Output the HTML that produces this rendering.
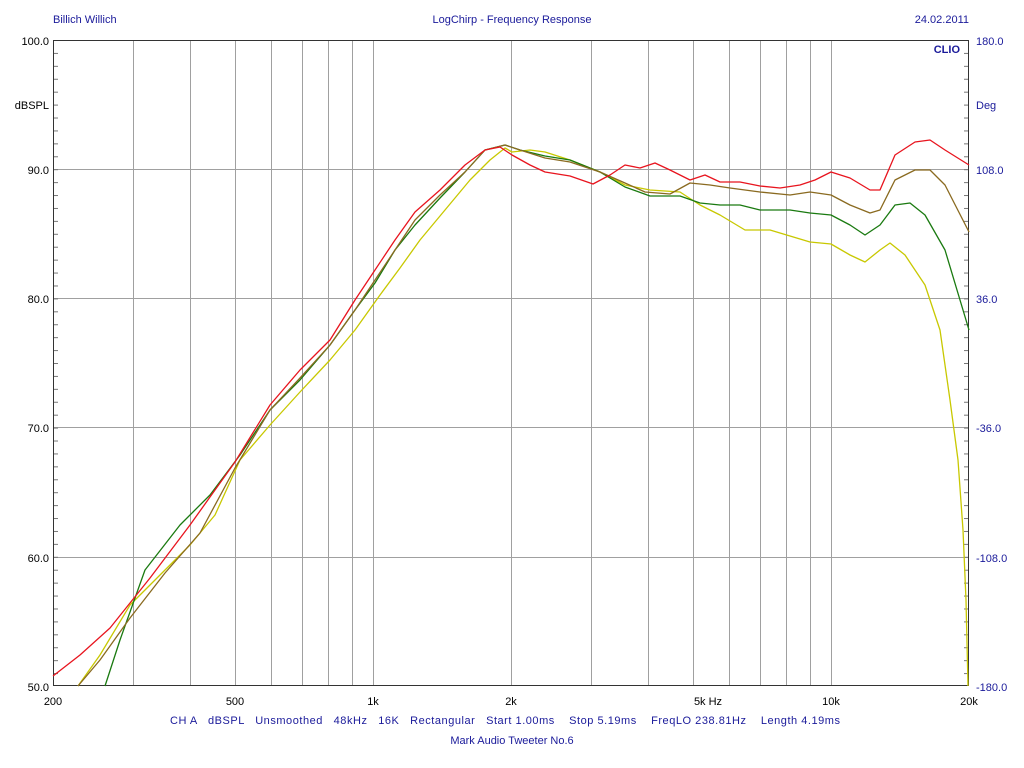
<!DOCTYPE html>
<html><head><meta charset="utf-8"><style>
html,body{margin:0;padding:0;background:#fff;}
svg{display:block;font-family:"Liberation Sans",sans-serif;}
</style></head><body>
<svg width="1024" height="768" viewBox="0 0 1024 768">
<defs>
<pattern id="tk" patternUnits="userSpaceOnUse" x="0" y="40" width="1024" height="12.92">
<rect x="54" y="0" width="4" height="1" fill="#777"/>
<rect x="964" y="0" width="4" height="1" fill="#777"/>
</pattern>
</defs>
<rect width="1024" height="768" fill="#fff"/>
<g font-size="11" fill="#1a1a9a">
<text x="53" y="23">Billich Willich</text>
<text x="512" y="23" text-anchor="middle">LogChirp - Frequency Response</text>
<text x="969" y="23" text-anchor="end">24.02.2011</text>
<text x="960" y="53" text-anchor="end" font-weight="bold">CLIO</text>
<text x="976" y="109">Deg</text>
<text x="976" y="45">180.0</text>
<text x="976" y="174">108.0</text>
<text x="976" y="303">36.0</text>
<text x="976" y="432">-36.0</text>
<text x="976" y="562">-108.0</text>
<text x="976" y="691">-180.0</text>
<text x="170" y="724" textLength="670" xml:space="preserve">CH A   dBSPL   Unsmoothed   48kHz   16K   Rectangular   Start 1.00ms    Stop 5.19ms    FreqLO 238.81Hz    Length 4.19ms</text>
<text x="512" y="744" text-anchor="middle">Mark Audio Tweeter No.6</text>
</g>
<g font-size="11" fill="#000">
<text x="49" y="45" text-anchor="end">100.0</text>
<text x="49" y="109" text-anchor="end">dBSPL</text>
<text x="49" y="174" text-anchor="end">90.0</text>
<text x="49" y="303" text-anchor="end">80.0</text>
<text x="49" y="432" text-anchor="end">70.0</text>
<text x="49" y="562" text-anchor="end">60.0</text>
<text x="49" y="691" text-anchor="end">50.0</text>
<text x="53" y="705" text-anchor="middle">200</text>
<text x="235" y="705" text-anchor="middle">500</text>
<text x="373" y="705" text-anchor="middle">1k</text>
<text x="511" y="705" text-anchor="middle">2k</text>
<text x="708" y="705" text-anchor="middle">5k  Hz</text>
<text x="831" y="705" text-anchor="middle">10k</text>
<text x="969" y="705" text-anchor="middle">20k</text>
</g>
<g stroke="#a0a0a0" stroke-width="1">
<line x1="133.5" y1="40" x2="133.5" y2="686"/><line x1="190.5" y1="40" x2="190.5" y2="686"/>
<line x1="235.5" y1="40" x2="235.5" y2="686"/><line x1="271.5" y1="40" x2="271.5" y2="686"/>
<line x1="302.5" y1="40" x2="302.5" y2="686"/><line x1="328.5" y1="40" x2="328.5" y2="686"/>
<line x1="352.5" y1="40" x2="352.5" y2="686"/><line x1="373.5" y1="40" x2="373.5" y2="686"/>
<line x1="511.5" y1="40" x2="511.5" y2="686"/><line x1="591.5" y1="40" x2="591.5" y2="686"/>
<line x1="648.5" y1="40" x2="648.5" y2="686"/><line x1="693.5" y1="40" x2="693.5" y2="686"/>
<line x1="729.5" y1="40" x2="729.5" y2="686"/><line x1="760.5" y1="40" x2="760.5" y2="686"/>
<line x1="786.5" y1="40" x2="786.5" y2="686"/><line x1="810.5" y1="40" x2="810.5" y2="686"/>
<line x1="831.5" y1="40" x2="831.5" y2="686"/>
<line x1="53" y1="169.5" x2="969" y2="169.5"/><line x1="53" y1="298.5" x2="969" y2="298.5"/>
<line x1="53" y1="427.5" x2="969" y2="427.5"/><line x1="53" y1="557.5" x2="969" y2="557.5"/>
</g>
<rect x="0" y="40" width="1024" height="646" fill="url(#tk)"/>
<rect x="53.5" y="40.5" width="915" height="645" fill="none" stroke="#333" stroke-width="1"/>
<g fill="none" stroke-width="1.3" stroke-linejoin="round">
<polyline stroke="#c8c800" points="78,686 100,655 130,605 160,575 190,545 215,515 240,460 270,425 300,392 330,360 355,330 380,295 400,268 420,240 445,210 470,180 490,160 505,148 512,152 530,150 545,152 570,160 600,172 625,185 650,190 680,192 700,205 720,215 745,230 770,230 790,236 810,242 831,244 850,255 865,262 880,250 890,243 905,255 925,285 940,330 950,400 958,460 963,530 966,600 968,686"/>
<polyline stroke="#1a7a10" points="105,686 120,640 145,570 180,525 210,495 240,455 270,410 300,380 330,345 355,310 375,283 395,250 415,225 440,198 465,172 485,150 505,145 520,150 545,156 570,160 600,172 625,187 650,196 680,196 700,203 720,205 740,205 760,210 790,210 810,213 831,215 850,225 865,235 880,225 895,205 910,203 925,215 945,250 969,330"/>
<polyline stroke="#8a6a20" points="78,686 100,660 130,618 165,573 200,533 235,468 270,410 300,378 330,345 355,310 375,280 395,250 415,220 440,195 465,172 485,150 505,145 520,150 545,158 570,162 600,172 625,183 645,192 670,194 690,183 710,185 730,188 760,192 790,195 810,192 831,195 850,205 870,213 880,210 895,180 915,170 930,170 945,185 969,232"/>
<polyline stroke="#e8141e" points="53,676 80,655 110,628 150,578 190,525 235,462 270,405 300,370 330,340 355,300 375,270 395,240 415,212 440,190 465,165 485,150 500,147 512,155 530,165 545,172 570,176 593,184 610,175 625,165 640,168 655,163 670,170 690,180 705,175 720,182 740,182 760,186 780,188 800,185 815,180 831,172 850,178 870,190 880,190 895,155 915,142 930,140 945,150 969,165"/>
</g>
</svg>
</body></html>
